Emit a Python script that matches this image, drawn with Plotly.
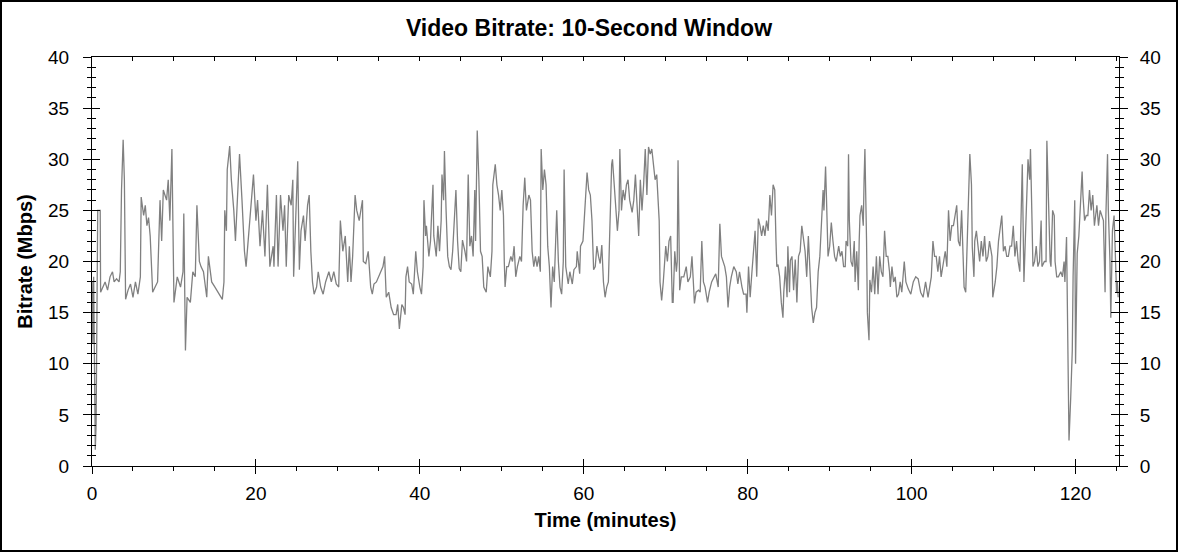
import plotly.graph_objects as go

# Video bitrate trace (10-second window)
minutes = [
    # 0 - 19 min
    0.0, 0.1, 0.2, 0.3, 0.4, 0.5, 0.6, 0.7, 0.85, 1.0, 1.05, 1.3, 1.6, 1.9, 2.2, 2.5, 2.7, 3.0, 3.3, 3.45,
    3.6, 3.8, 3.95, 4.1, 4.4, 4.7, 5.0, 5.3, 5.6, 5.9, 6.0, 6.3, 6.5, 6.7, 6.9, 7.1, 7.4, 7.7, 8.0, 8.3,
    8.5, 8.7, 9.1, 9.3, 9.5, 9.75, 9.9, 10.0, 10.4, 10.8, 11.1, 11.2, 11.4, 11.6, 12.0, 12.3, 12.6, 12.8, 13.1, 13.3,
    13.6, 14.0, 14.2, 14.6, 15.0, 15.4, 15.9, 16.1, 16.2, 16.4, 16.5, 16.7, 16.8, 17.0, 17.3, 17.5, 17.7, 18.0, 18.3, 18.6,
    18.8, 19.1,
    # 19 - 40 min
    19.4, 19.7, 20.0, 20.2, 20.5, 20.8, 21.1, 21.4, 21.7, 22.1, 22.2, 22.5, 22.7, 23.0, 23.3, 23.5, 23.7, 24.0, 24.3, 24.5,
    24.6, 24.8, 25.1, 25.3, 25.5, 25.8, 26.0, 26.3, 26.5, 26.7, 26.9, 27.1, 27.4, 27.6, 27.9, 28.2, 28.5, 28.9, 29.2, 29.5,
    29.8, 30.1, 30.3, 30.6, 30.9, 31.2, 31.4, 31.6, 31.8, 32.1, 32.3, 32.6, 32.8, 33.0, 33.1, 33.4, 33.7, 34.0, 34.2, 34.4,
    34.7, 35.0, 35.3, 35.5, 35.7, 35.9, 36.2, 36.5, 36.8, 37.1, 37.3, 37.5, 37.8, 38.0, 38.2, 38.3, 38.5, 38.7, 39.0, 39.2,
    39.5, 39.7,
    # 40 - 61 min
    40.0, 40.2, 40.4, 40.5, 40.7, 40.8, 41.1, 41.3, 41.4, 41.6, 41.7, 42.0, 42.2, 42.4, 42.6, 42.7, 42.9, 43.0, 43.2, 43.4,
    43.6, 43.8, 44.0, 44.2, 44.4, 44.6, 44.8, 45.0, 45.2, 45.5, 45.7, 45.9, 46.1, 46.3, 46.5, 46.7, 46.8, 47.0, 47.2, 47.4,
    47.6, 47.8, 48.1, 48.3, 48.6, 48.8, 48.9, 49.2, 49.4, 49.6, 49.8, 50.0, 50.2, 50.3, 50.4, 50.6, 50.8, 51.1, 51.3, 51.5,
    51.7, 51.9, 52.2, 52.4, 52.6, 52.8, 53.0, 53.3, 53.5, 53.7, 53.9, 54.1, 54.3, 54.5, 54.7, 54.8, 55.0, 55.2, 55.4, 55.6,
    55.8, 56.0, 56.2, 56.4, 56.6, 56.7, 56.9, 57.1, 57.3, 57.5, 57.6, 57.8, 58.1, 58.3, 58.6, 58.8, 59.1, 59.2, 59.5, 59.6,
    59.9, 60.2, 60.4, 60.6,
    # 61 - 81 min
    60.8, 61.0, 61.2, 61.4, 61.6, 61.8, 62.0, 62.2, 62.4, 62.6, 62.8, 63.0, 63.2, 63.4, 63.5, 63.7, 63.9, 64.1, 64.3, 64.4,
    64.6, 64.8, 65.0, 65.2, 65.4, 65.6, 65.9, 66.1, 66.3, 66.5, 66.7, 66.9, 67.1, 67.3, 67.5, 67.7, 67.9, 68.1, 68.3, 68.5,
    68.7, 68.9, 69.1, 69.2, 69.3, 69.5, 69.7, 70.0, 70.2, 70.4, 70.6, 70.8, 70.9, 71.1, 71.3, 71.4, 71.5, 71.7, 71.9, 72.2,
    72.5, 72.7, 73.0, 73.2, 73.4, 73.5, 73.7, 74.0, 74.2, 74.4, 74.6, 74.8, 75.1, 75.3, 75.6, 75.9, 76.1, 76.4, 76.6, 76.8,
    77.0, 77.2, 77.4, 77.6, 77.8, 78.0, 78.3, 78.6, 78.8, 79.0, 79.3, 79.5, 79.8, 79.9, 80.1, 80.3, 80.5, 80.7, 80.9, 81.1,
    81.3,
    # 81 - 102 min
    81.5, 81.7, 81.9, 82.1, 82.3, 82.5, 82.7, 82.9, 83.1, 83.3, 83.45, 83.55, 83.7, 83.9, 84.1, 84.3, 84.4, 84.6, 84.8, 84.9,
    85.1, 85.2, 85.4, 85.6, 85.8, 86.0, 86.2, 86.4, 86.6, 86.8, 87.0, 87.2, 87.4, 87.6, 87.8, 88.0, 88.2, 88.4, 88.6, 88.8,
    89.0, 89.2, 89.3, 89.5, 89.6, 89.8, 90.0, 90.2, 90.4, 90.6, 90.8, 91.1, 91.3, 91.5, 91.7, 91.9, 92.0, 92.2, 92.3, 92.4,
    92.6, 92.8, 93.0, 93.1, 93.3, 93.5, 93.6, 93.7, 93.9, 94.1, 94.2, 94.3, 94.5, 94.6, 94.8, 94.9, 95.1, 95.3, 95.5, 95.7,
    95.9, 96.1, 96.3, 96.5, 96.7, 96.9, 97.1, 97.3, 97.4, 97.6, 97.8, 98.0, 98.2, 98.4, 98.6, 98.8, 99.1, 99.3, 99.6, 99.9,
    100.2, 100.5, 100.8, 101.1, 101.4, 101.7, 102.0,
    # 102 - 125 min
    102.2, 102.4, 102.6, 102.8, 103.0, 103.2, 103.4, 103.6, 103.9, 104.1, 104.3, 104.5, 104.7, 104.9, 105.1, 105.3, 105.5, 105.7, 105.9, 106.1,
    106.3, 106.4, 106.6, 106.8, 107.0, 107.1, 107.3, 107.4, 107.6, 107.7, 107.9, 108.1, 108.3, 108.5, 108.7, 108.9, 109.1, 109.3, 109.5, 109.8,
    109.9, 110.2, 110.4, 110.6, 110.8, 111.0, 111.2, 111.4, 111.6, 111.8, 112.0, 112.2, 112.4, 112.6, 112.8, 113.0, 113.2, 113.4, 113.5, 113.7,
    113.9, 114.0, 114.2, 114.4, 114.5, 114.7, 114.8, 115.0, 115.2, 115.4, 115.6, 115.8, 115.9, 116.2, 116.4, 116.5, 116.7, 116.9, 117.0, 117.2,
    117.4, 117.5, 117.7, 117.9, 118.2, 118.4, 118.6, 118.7, 118.9, 119.1, 119.2, 119.4, 119.6, 119.7, 119.9, 120.0, 120.2, 120.4, 120.6, 120.8,
    120.9, 121.1, 121.3, 121.5, 121.7, 121.9, 122.1, 122.3, 122.6, 122.8, 123.0, 123.2, 123.4, 123.6, 123.7, 123.9, 124.0, 124.2, 124.3, 124.5,
    124.7, 124.8, 125.0, 125.1, 125.2,
]

mbps = [
    # 0 - 19 min
    18.0, 12.0, 18.5, 6.0, 1.6, 4.0, 18.0, 25.0, 25.0, 25.0, 17.0, 17.5, 18.0, 17.2, 18.5, 19.0, 18.0, 18.3, 18.0, 19.0,
    27.0, 31.9, 28.0, 16.3, 17.2, 17.8, 16.5, 18.0, 16.8, 18.5, 26.3, 24.5, 25.5, 23.5, 24.3, 22.5, 17.0, 17.5, 18.0, 26.0,
    22.0, 27.0, 26.0, 28.0, 24.0, 31.0, 22.0, 16.0, 18.5, 17.5, 19.0, 24.7, 11.3, 16.5, 16.0, 19.0, 18.5, 25.5, 20.0, 19.5,
    19.0, 16.5, 20.5, 18.0, 17.5, 17.0, 16.3, 18.0, 25.0, 23.0, 29.0, 30.5, 31.3, 28.0, 25.0, 22.0, 25.5, 30.5, 26.0, 21.0,
    19.5, 22.5,
    # 19 - 40 min
    25.5, 28.5, 24.0, 26.0, 21.5, 25.0, 20.5, 27.5, 19.5, 21.5, 19.5, 26.5, 19.5, 26.5, 23.0, 25.5, 19.5, 26.5, 25.5, 28.0,
    18.5, 23.0, 29.8, 19.2, 23.0, 24.5, 22.0, 25.5, 26.5, 21.0, 18.0, 16.8, 17.5, 19.0, 17.5, 16.8, 18.0, 19.0, 18.0, 19.0,
    17.8, 17.5, 24.0, 21.0, 22.5, 18.0, 21.5, 18.0, 20.5, 26.5, 25.0, 24.0, 25.0, 26.0, 20.0, 19.8, 21.0, 17.5, 16.8, 17.8,
    18.0, 18.5, 19.0, 19.5, 20.5, 16.5, 17.0, 15.5, 14.8, 14.8, 15.8, 13.4, 15.8, 15.5, 14.8, 18.5, 19.5, 18.0, 17.8, 16.8,
    21.0, 19.0,
    # 40 - 61 min
    17.5, 16.8, 19.5, 26.0, 22.5, 23.5, 20.5, 22.0, 24.0, 27.5, 22.5, 20.5, 23.5, 21.0, 24.0, 28.5, 26.0, 30.8, 25.0, 20.5,
    19.5, 19.2, 21.0, 24.7, 27.0, 22.0, 19.3, 19.0, 22.1, 21.0, 20.0, 28.5, 21.5, 22.5, 20.5, 27.0, 22.0, 32.8, 28.0, 21.0,
    20.5, 17.5, 17.0, 19.5, 18.5, 21.0, 27.5, 29.5, 27.5, 26.5, 25.0, 27.0, 24.5, 20.0, 17.5, 19.5, 19.5, 20.5, 20.0, 21.5,
    18.5, 19.5, 20.5, 20.0, 25.5, 28.2, 25.0, 26.5, 26.0, 21.0, 19.5, 20.5, 19.5, 20.5, 19.0, 31.0, 27.0, 29.0, 27.5, 21.5,
    19.5, 15.5, 19.5, 18.0, 23.0, 25.0, 20.0, 17.5, 16.8, 20.0, 29.0, 19.5, 17.8, 19.0, 17.8, 19.2, 19.5, 21.0, 18.8, 21.5,
    22.0, 26.0, 28.7, 27.0,
    # 61 - 81 min
    26.5, 24.0, 19.2, 19.5, 21.5, 20.5, 19.8, 21.6, 18.0, 16.5, 17.5, 18.0, 25.0, 29.5, 30.0, 27.5, 26.0, 23.0, 25.0, 31.0,
    25.0, 27.0, 26.0, 27.5, 28.0, 26.0, 24.8, 26.0, 28.5, 26.0, 22.5, 28.0, 25.0, 27.5, 31.0, 26.5, 31.2, 30.5, 31.0, 29.5,
    28.0, 28.5, 25.0, 24.0, 18.0, 16.2, 18.0, 21.5, 20.0, 22.0, 22.5, 16.0, 16.0, 21.0, 19.0, 20.0, 29.9, 17.2, 18.5, 18.5,
    19.5, 18.0, 18.5, 20.5, 17.5, 15.9, 17.0, 17.2, 17.0, 22.0, 18.0, 17.5, 16.0, 17.0, 18.0, 18.5, 18.8, 17.5, 23.7, 20.5,
    20.0, 19.5, 18.5, 15.5, 17.5, 18.5, 19.5, 19.0, 17.8, 19.0, 17.5, 16.8, 16.8, 15.0, 19.5, 16.5, 18.8, 21.5, 23.0, 18.5,
    24.2,
    # 81 - 102 min
    23.5, 22.5, 23.5, 22.5, 24.0, 23.0, 26.5, 24.5, 27.5, 27.0, 22.0, 19.5, 19.7, 18.5, 16.0, 14.5, 17.0, 19.5, 16.5, 21.5,
    17.0, 20.1, 20.5, 17.2, 20.2, 16.0, 20.5, 21.0, 23.5, 22.0, 21.0, 18.5, 22.5, 19.0, 15.5, 14.0, 15.0, 15.5, 19.0, 20.5,
    23.5, 27.0, 25.0, 29.3, 26.5, 20.5, 21.5, 23.8, 22.0, 20.5, 20.0, 21.5, 20.5, 21.0, 19.5, 19.5, 22.0, 21.5, 30.5, 24.0,
    20.0, 19.5, 22.0, 18.0, 21.0, 17.2, 22.0, 24.5, 25.5, 23.5, 28.0, 31.0, 22.0, 15.0, 12.3, 18.2, 17.0, 19.5, 16.8, 20.5,
    16.8, 20.5, 19.0, 18.5, 23.0, 20.5, 20.5, 19.0, 17.5, 19.5, 18.0, 18.5, 16.5, 16.8, 18.0, 17.0, 20.0, 18.0, 17.3, 16.8,
    18.0, 18.5, 18.3, 17.0, 16.5, 18.0, 16.5,
    # 102 - 125 min
    17.5, 18.5, 22.0, 20.5, 20.5, 19.0, 20.5, 18.5, 20.0, 21.0, 19.5, 25.0, 22.0, 23.5, 23.5, 24.5, 25.5, 22.0, 21.5, 25.0,
    19.5, 17.5, 17.0, 22.5, 25.5, 30.5, 27.5, 21.4, 18.5, 22.0, 23.0, 21.5, 20.0, 22.0, 20.5, 22.5, 20.0, 20.5, 22.0, 20.5,
    16.5, 18.0, 19.5, 22.0, 23.5, 24.5, 21.0, 21.5, 20.5, 20.5, 21.5, 21.5, 23.5, 20.5, 22.0, 20.0, 19.0, 26.0, 29.5, 18.0,
    23.5, 26.3, 30.0, 28.0, 31.0, 23.5, 19.5, 20.0, 21.5, 19.5, 20.0, 24.0, 19.5, 20.0, 20.0, 31.8, 25.0, 20.0, 19.5, 25.0,
    24.5, 20.0, 18.5, 18.5, 19.0, 18.5, 20.0, 18.0, 22.4, 11.0, 2.5, 6.5, 11.3, 18.5, 26.0, 10.0, 20.8, 22.5, 26.5, 28.8,
    26.5, 24.0, 24.5, 24.5, 27.0, 25.0, 26.5, 23.5, 25.5, 23.5, 25.0, 24.5, 24.0, 17.0, 24.5, 30.5, 25.0, 20.0, 14.5, 23.0,
    24.5, 22.0, 17.0, 18.0, 16.5,
]

x_range = [0, 125.3]
y_range = [0, 40]
x_ticks = [0, 20, 40, 60, 80, 100, 120]
y_ticks = [0, 5, 10, 15, 20, 25, 30, 35, 40]

W, H = 1178, 552
ML, MR, MT, MB = 92, 59, 57, 86
PW, PH = W - ML - MR, H - MT - MB

FONT = "Liberation Sans, Arial, sans-serif"
tick_font = dict(family=FONT, size=19, color="black")
label_font = dict(family=FONT, size=20, color="black")

fig = go.Figure()
fig.add_trace(go.Scatter(
    x=minutes, y=mbps, mode="lines",
    line=dict(color="#808080", width=1.3),
    hoverinfo="x+y", showlegend=False,
))
# empty traces so the overlay axes (frame + crossing ticks) get drawn
for xa, ya in [("x2", "y3"), ("x3", "y2"), ("x", "y4")]:
    fig.add_trace(go.Scatter(x=[], y=[], xaxis=xa, yaxis=ya, mode="lines",
                             showlegend=False, hoverinfo="skip"))

common = dict(showgrid=False, zeroline=False, showline=True, linecolor="black",
              linewidth=1, tickcolor="black", tickwidth=1)

fig.update_layout(
    width=W, height=H,
    margin=dict(l=ML, r=MR, t=MT, b=MB),
    paper_bgcolor="white", plot_bgcolor="white",
    title=dict(text="<b>Video Bitrate: 10-Second Window</b>", x=0.5, xanchor="center",
               y=1 - 28 / H, yanchor="middle", yref="container",
               font=dict(family=FONT, size=23, color="black")),
    xaxis=dict(**common, range=x_range, tickvals=x_ticks, ticks="inside", ticklen=7,
               tickfont=tick_font, ticklabelstandoff=10,
               minor=dict(ticks="outside", dtick=5, ticklen=4, tickcolor="black"),
               title=dict(text="<b>Time (minutes)</b>", standoff=10, font=label_font)),
    # crossing half of the bottom major ticks
    xaxis2=dict(**common, range=x_range, overlaying="x", side="bottom", anchor="y3",
                tickvals=x_ticks, ticks="outside", ticklen=7, showticklabels=False),
    # top frame with short inward ticks
    xaxis3=dict(**common, range=x_range, overlaying="x", side="top", anchor="y2",
                dtick=5, ticks="inside", ticklen=4, showticklabels=False),
    yaxis=dict(**common, range=y_range, tickvals=y_ticks, ticks="outside", ticklen=8,
               tickfont=tick_font, ticklabelstandoff=10,
               minor=dict(ticks="outside", dtick=1, ticklen=4, tickcolor="black"),
               title=dict(text="<b>Bitrate (Mbps)</b>", standoff=10, font=label_font)),
    yaxis3=dict(**common, range=y_range, overlaying="y", side="left", anchor="x2",
                tickvals=y_ticks, ticks="inside", ticklen=8, showticklabels=False,
                minor=dict(ticks="inside", dtick=1, ticklen=4, tickcolor="black")),
    yaxis2=dict(**common, range=y_range, overlaying="y", side="right", anchor="x3",
                tickvals=y_ticks, ticks="outside", ticklen=8, tickfont=tick_font,
                ticklabelstandoff=8,
                minor=dict(ticks="outside", dtick=1, ticklen=4, tickcolor="black")),
    yaxis4=dict(**common, range=y_range, overlaying="y", side="right", anchor="x",
                tickvals=y_ticks, ticks="inside", ticklen=8, showticklabels=False,
                minor=dict(ticks="inside", dtick=1, ticklen=4, tickcolor="black")),
    shapes=[dict(type="rect", xref="paper", yref="paper",
                 x0=-(ML - 1) / PW, x1=1 + (MR - 1) / PW,
                 y0=-(MB - 1) / PH, y1=1 + (MT - 1) / PH,
                 line=dict(color="black", width=2), layer="below")],
)

# drop the browser's default body margin so the figure fills the window
fig.write_html("out.html", config={"displayModeBar": False},
               post_script="document.body.style.margin='0';")
